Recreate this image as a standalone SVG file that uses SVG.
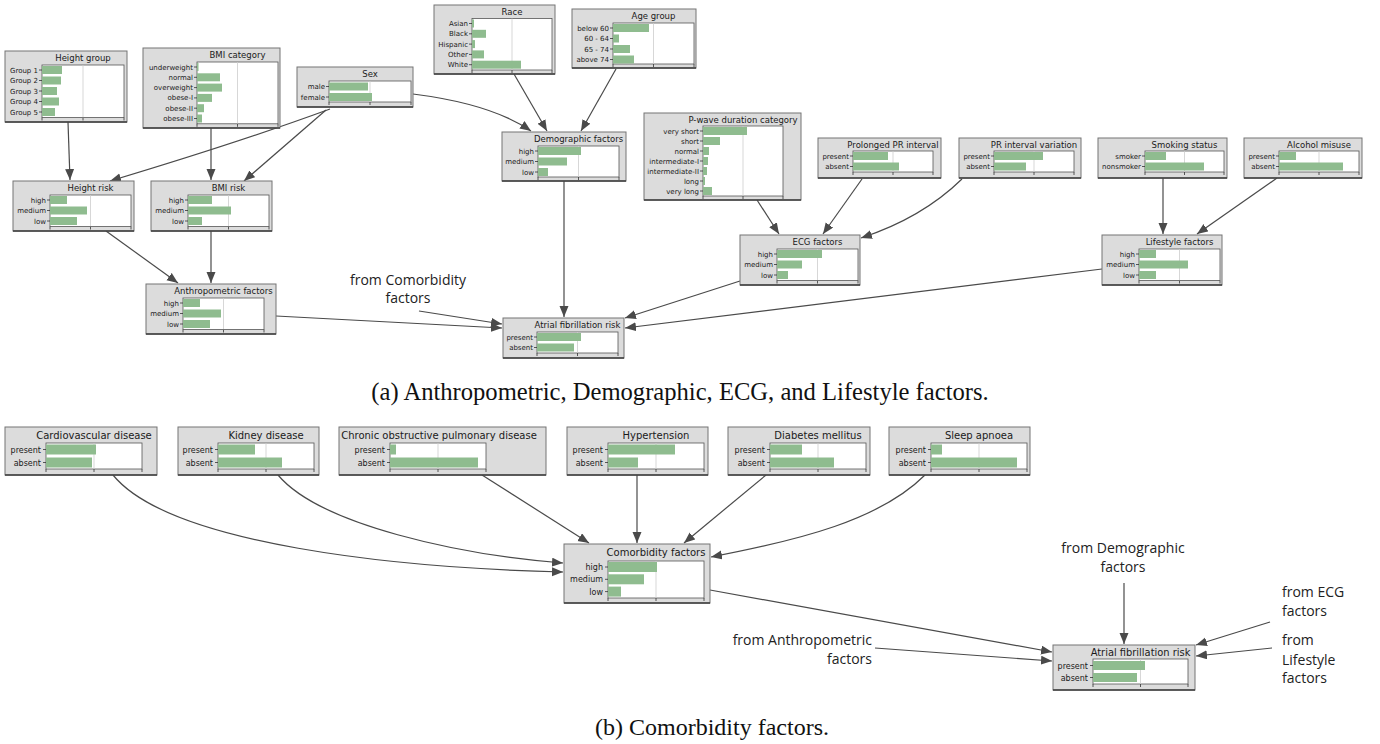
<svg xmlns="http://www.w3.org/2000/svg" width="1380" height="744" viewBox="0 0 1380 744">
<defs>
<style>
.bx{fill:#dcdcdc;stroke:#747474;stroke-width:1}
.sd{stroke:#3c3c3c;stroke-width:1.6}
.pl{fill:#fff;stroke:#555;stroke-width:0.8}
.gr{stroke:#cdcdcd;stroke-width:0.8}
.br{fill:#8fbc8f}
.tk{stroke:#333;stroke-width:0.8}
.t1{font-family:"DejaVu Sans",sans-serif;font-size:8.5px;fill:#1a1a1a;text-anchor:middle}
.l1{font-family:"DejaVu Sans",sans-serif;font-size:7px;fill:#1a1a1a;text-anchor:end}
.t2{font-family:"DejaVu Sans",sans-serif;font-size:10px;fill:#1a1a1a;text-anchor:middle}
.l2{font-family:"DejaVu Sans",sans-serif;font-size:8px;fill:#1a1a1a;text-anchor:end}
.cn{fill:none;stroke:#4a4a4a;stroke-width:1.2;marker-end:url(#ah)}
.fr{font-family:"Open Sans",sans-serif;font-size:14px;fill:#222}
.cap{font-family:"Liberation Serif",serif;font-size:24px;fill:#111;text-anchor:middle}
</style>
<marker id="ah" markerUnits="userSpaceOnUse" markerWidth="12" markerHeight="10" refX="11" refY="4.5" orient="auto">
<path d="M0,0 L11,4.5 L0,9 z" fill="#4a4a4a"/>
</marker>
</defs>
<rect width="1380" height="744" fill="#fff"/>

<g id="connectors">
<path class="cn" d="M68,122 L70,180"/>
<path class="cn" d="M330,109 Q240,142 110,181"/>
<path class="cn" d="M326,110 L244,181"/>
<path class="cn" d="M211,128 L211,180"/>
<path class="cn" d="M106,231 L178,283"/>
<path class="cn" d="M211,231 L211,283"/>
<path class="cn" d="M276,316 L502,328"/>
<path class="cn" d="M419,311 L502,324"/>
<path class="cn" d="M413,94 Q492,104 531,131"/>
<path class="cn" d="M514,74 L547,131"/>
<path class="cn" d="M616,69 L581,131"/>
<path class="cn" d="M564,181 L564,317"/>
<path class="cn" d="M757,200 L779,234"/>
<path class="cn" d="M862,179 L823,234"/>
<path class="cn" d="M962,179 Q922,218 861,238"/>
<path class="cn" d="M1163,178 L1163,234"/>
<path class="cn" d="M1277,178 L1197,234"/>
<path class="cn" d="M740,281 L625,318"/>
<path class="cn" d="M1102,269 L625,328"/>
<path class="cn" d="M113,475 C170,545 400,568 563,572"/>
<path class="cn" d="M278,475 C320,525 460,555 563,563"/>
<path class="cn" d="M482,475 L589,543"/>
<path class="cn" d="M637,475 L637,543"/>
<path class="cn" d="M766,475 L684,543"/>
<path class="cn" d="M925,475 C880,520 800,540 711,557"/>
<path class="cn" d="M710,590 L1052,652"/>
<path class="cn" d="M875,648 L1052,661"/>
<path class="cn" d="M1124,583 L1124,644"/>
<path class="cn" d="M1270,622 L1196,645"/>
<path class="cn" d="M1272,648 L1196,656"/>
</g>

<g id="height_group">
<rect class="bx" x="5" y="51" width="122" height="71"/><line class="sd" x1="5" y1="122" x2="127" y2="122"/>
<text class="t1" x="83" y="61">Height group</text>
<rect class="pl" x="42" y="65" width="82" height="52.5"/><line class="gr" x1="83" y1="65" x2="83" y2="117.5"/>
<rect class="br" x="42" y="66" width="20" height="8"/><rect class="br" x="42" y="76.5" width="19" height="8"/><rect class="br" x="42" y="87" width="15" height="8"/><rect class="br" x="42" y="97.5" width="17" height="8"/><rect class="br" x="42" y="108" width="13" height="8"/>
<path class="tk" d="M39,70H42M39,80.5H42M39,91H42M39,101.5H42M39,112H42M42,117.5V120.5M83,117.5V120.5M124,117.5V120.5"/>
<text class="l1" x="38" y="72.5">Group 1</text><text class="l1" x="38" y="83">Group 2</text><text class="l1" x="38" y="93.5">Group 3</text><text class="l1" x="38" y="104">Group 4</text><text class="l1" x="38" y="114.5">Group 5</text>
</g>

<g id="bmi_category">
<rect class="bx" x="143" y="48" width="137" height="80"/><line class="sd" x1="143" y1="128" x2="280" y2="128"/>
<text class="t1" x="237.5" y="58">BMI category</text>
<rect class="pl" x="197" y="62" width="81" height="61.8"/><line class="gr" x1="237.5" y1="62" x2="237.5" y2="123.8"/>
<rect class="br" x="197" y="63" width="1.5" height="8"/><rect class="br" x="197" y="73.3" width="23" height="8"/><rect class="br" x="197" y="83.6" width="25" height="8"/><rect class="br" x="197" y="93.9" width="15" height="8"/><rect class="br" x="197" y="104.2" width="7" height="8"/><rect class="br" x="197" y="114.5" width="5" height="8"/>
<path class="tk" d="M194,67H197M194,77.3H197M194,87.6H197M194,97.9H197M194,108.2H197M194,118.5H197M197,123.8V126.8M237.5,123.8V126.8M278,123.8V126.8"/>
<text class="l1" x="193" y="69.5">underweight</text><text class="l1" x="193" y="79.8">normal</text><text class="l1" x="193" y="90.1">overweight</text><text class="l1" x="193" y="100.4">obese-I</text><text class="l1" x="193" y="110.7">obese-II</text><text class="l1" x="193" y="121">obese-III</text>
</g>

<g id="sex">
<rect class="bx" x="297" y="67" width="116" height="40"/><line class="sd" x1="297" y1="107" x2="413" y2="107"/>
<text class="t1" x="370" y="77">Sex</text>
<rect class="pl" x="329" y="81" width="82" height="21"/><line class="gr" x1="370" y1="81" x2="370" y2="102"/>
<rect class="br" x="329" y="82.5" width="39" height="8"/><rect class="br" x="329" y="93" width="43" height="8"/>
<path class="tk" d="M326,86.5H329M326,97H329M329,102V105M370,102V105M411,102V105"/>
<text class="l1" x="325" y="89">male</text><text class="l1" x="325" y="99.5">female</text>
</g>

<g id="race">
<rect class="bx" x="434" y="5" width="121" height="69"/><line class="sd" x1="434" y1="74" x2="555" y2="74"/>
<text class="t1" x="512" y="15">Race</text>
<rect class="pl" x="472" y="18.5" width="80" height="51.5"/><line class="gr" x1="512" y1="18.5" x2="512" y2="70"/>
<rect class="br" x="472" y="19.5" width="2" height="8"/><rect class="br" x="472" y="29.8" width="14" height="8"/><rect class="br" x="472" y="40.1" width="3" height="8"/><rect class="br" x="472" y="50.4" width="12" height="8"/><rect class="br" x="472" y="60.7" width="49" height="8"/>
<path class="tk" d="M469,23.5H472M469,33.8H472M469,44.1H472M469,54.4H472M469,64.7H472M472,70V73M512,70V73M552,70V73"/>
<text class="l1" x="468" y="26">Asian</text><text class="l1" x="468" y="36.3">Black</text><text class="l1" x="468" y="46.6">Hispanic</text><text class="l1" x="468" y="56.9">Other</text><text class="l1" x="468" y="67.2">White</text>
</g>

<g id="age_group">
<rect class="bx" x="572" y="9" width="124" height="59"/><line class="sd" x1="572" y1="68" x2="696" y2="68"/>
<text class="t1" x="653.5" y="19">Age group</text>
<rect class="pl" x="613" y="23" width="81" height="41"/><line class="gr" x1="653.5" y1="23" x2="653.5" y2="64"/>
<rect class="br" x="613" y="24" width="36" height="8"/><rect class="br" x="613" y="34.5" width="6" height="8"/><rect class="br" x="613" y="45" width="17" height="8"/><rect class="br" x="613" y="55.5" width="21" height="8"/>
<path class="tk" d="M610,28H613M610,38.5H613M610,49H613M610,59.5H613M613,64V67M653.5,64V67M694,64V67"/>
<text class="l1" x="609" y="30.5">below 60</text><text class="l1" x="609" y="41">60 - 64</text><text class="l1" x="609" y="51.5">65 - 74</text><text class="l1" x="609" y="62">above 74</text>
</g>

<g id="demographic_factors">
<rect class="bx" x="502" y="132" width="124" height="49"/><line class="sd" x1="502" y1="181" x2="626" y2="181"/>
<text class="t1" x="578.5" y="142">Demographic factors</text>
<rect class="pl" x="538" y="146" width="81" height="31"/><line class="gr" x1="578.5" y1="146" x2="578.5" y2="177"/>
<rect class="br" x="538" y="147" width="43" height="8"/><rect class="br" x="538" y="157.5" width="29" height="8"/><rect class="br" x="538" y="168" width="10" height="8"/>
<path class="tk" d="M535,151H538M535,161.5H538M535,172H538M538,177V180M578.5,177V180M619,177V180"/>
<text class="l1" x="534" y="153.5">high</text><text class="l1" x="534" y="164">medium</text><text class="l1" x="534" y="174.5">low</text>
</g>

<g id="pwave_duration">
<rect class="bx" x="644" y="113" width="157" height="87"/><line class="sd" x1="644" y1="200" x2="801" y2="200"/>
<text class="t1" x="743" y="123">P-wave duration category</text>
<rect class="pl" x="703" y="126" width="80" height="70"/><line class="gr" x1="743" y1="126" x2="743" y2="196"/>
<rect class="br" x="703" y="127" width="44" height="8"/><rect class="br" x="703" y="137" width="17" height="8"/><rect class="br" x="703" y="147" width="6" height="8"/><rect class="br" x="703" y="157" width="5" height="8"/><rect class="br" x="703" y="167" width="4" height="8"/><rect class="br" x="703" y="177" width="2" height="8"/><rect class="br" x="703" y="187" width="9" height="8"/>
<path class="tk" d="M700,131H703M700,141H703M700,151H703M700,161H703M700,171H703M700,181H703M700,191H703M703,196V199M743,196V199M783,196V199"/>
<text class="l1" x="699" y="133.5">very short</text><text class="l1" x="699" y="143.5">short</text><text class="l1" x="699" y="153.5">normal</text><text class="l1" x="699" y="163.5">intermediate-I</text><text class="l1" x="699" y="173.5">intermediate-II</text><text class="l1" x="699" y="183.5">long</text><text class="l1" x="699" y="193.5">very long</text>
</g>

<g id="prolonged_pr">
<rect class="bx" x="818" y="138" width="123" height="40"/><line class="sd" x1="818" y1="178" x2="941" y2="178"/>
<text class="t1" x="893" y="148">Prolonged PR interval</text>
<rect class="pl" x="853" y="151" width="80" height="21"/><line class="gr" x1="893" y1="151" x2="893" y2="172"/>
<rect class="br" x="853" y="152" width="35" height="8"/><rect class="br" x="853" y="162.5" width="46" height="8"/>
<path class="tk" d="M850,156H853M850,166.5H853M853,172V175M893,172V175M933,172V175"/>
<text class="l1" x="849" y="158.5">present</text><text class="l1" x="849" y="169">absent</text>
</g>

<g id="pr_variation">
<rect class="bx" x="959" y="138" width="122" height="40"/><line class="sd" x1="959" y1="178" x2="1081" y2="178"/>
<text class="t1" x="1034" y="148">PR interval variation</text>
<rect class="pl" x="994" y="151" width="80" height="21"/><line class="gr" x1="1034" y1="151" x2="1034" y2="172"/>
<rect class="br" x="994" y="152" width="49" height="8"/><rect class="br" x="994" y="162.5" width="32" height="8"/>
<path class="tk" d="M991,156H994M991,166.5H994M994,172V175M1034,172V175M1074,172V175"/>
<text class="l1" x="990" y="158.5">present</text><text class="l1" x="990" y="169">absent</text>
</g>

<g id="smoking_status">
<rect class="bx" x="1098" y="138" width="129" height="40"/><line class="sd" x1="1098" y1="178" x2="1227" y2="178"/>
<text class="t1" x="1184.5" y="148">Smoking status</text>
<rect class="pl" x="1145" y="151" width="79" height="21"/><line class="gr" x1="1184.5" y1="151" x2="1184.5" y2="172"/>
<rect class="br" x="1145" y="152" width="21" height="8"/><rect class="br" x="1145" y="162.5" width="59" height="8"/>
<path class="tk" d="M1142,156H1145M1142,166.5H1145M1145,172V175M1184.5,172V175M1224,172V175"/>
<text class="l1" x="1141" y="158.5">smoker</text><text class="l1" x="1141" y="169">nonsmoker</text>
</g>

<g id="alcohol_misuse">
<rect class="bx" x="1244" y="138" width="118" height="40"/><line class="sd" x1="1244" y1="178" x2="1362" y2="178"/>
<text class="t1" x="1319" y="148">Alcohol misuse</text>
<rect class="pl" x="1279" y="151" width="80" height="21"/><line class="gr" x1="1319" y1="151" x2="1319" y2="172"/>
<rect class="br" x="1279" y="152" width="17" height="8"/><rect class="br" x="1279" y="162.5" width="64" height="8"/>
<path class="tk" d="M1276,156H1279M1276,166.5H1279M1279,172V175M1319,172V175M1359,172V175"/>
<text class="l1" x="1275" y="158.5">present</text><text class="l1" x="1275" y="169">absent</text>
</g>

<g id="height_risk">
<rect class="bx" x="13" y="181" width="121" height="50"/><line class="sd" x1="13" y1="231" x2="134" y2="231"/>
<text class="t1" x="90.5" y="191">Height risk</text>
<rect class="pl" x="50" y="195" width="81" height="31.5"/><line class="gr" x1="90.5" y1="195" x2="90.5" y2="226.5"/>
<rect class="br" x="50" y="196" width="17" height="8"/><rect class="br" x="50" y="206.5" width="37" height="8"/><rect class="br" x="50" y="217" width="27" height="8"/>
<path class="tk" d="M47,200H50M47,210.5H50M47,221H50M50,226.5V229.5M90.5,226.5V229.5M131,226.5V229.5"/>
<text class="l1" x="46" y="202.5">high</text><text class="l1" x="46" y="213">medium</text><text class="l1" x="46" y="223.5">low</text>
</g>

<g id="bmi_risk">
<rect class="bx" x="151" y="181" width="121" height="50"/><line class="sd" x1="151" y1="231" x2="272" y2="231"/>
<text class="t1" x="228.5" y="191">BMI risk</text>
<rect class="pl" x="188" y="195" width="81" height="31.5"/><line class="gr" x1="228.5" y1="195" x2="228.5" y2="226.5"/>
<rect class="br" x="188" y="196" width="24" height="8"/><rect class="br" x="188" y="206.5" width="43" height="8"/><rect class="br" x="188" y="217" width="14" height="8"/>
<path class="tk" d="M185,200H188M185,210.5H188M185,221H188M188,226.5V229.5M228.5,226.5V229.5M269,226.5V229.5"/>
<text class="l1" x="184" y="202.5">high</text><text class="l1" x="184" y="213">medium</text><text class="l1" x="184" y="223.5">low</text>
</g>

<g id="anthropometric_factors">
<rect class="bx" x="146" y="284" width="130" height="50"/><line class="sd" x1="146" y1="334" x2="276" y2="334"/>
<text class="t1" x="223.5" y="294">Anthropometric factors</text>
<rect class="pl" x="183" y="298" width="81" height="31.5"/><line class="gr" x1="223.5" y1="298" x2="223.5" y2="329.5"/>
<rect class="br" x="183" y="299" width="17" height="8"/><rect class="br" x="183" y="309.5" width="38" height="8"/><rect class="br" x="183" y="320" width="27" height="8"/>
<path class="tk" d="M180,303H183M180,313.5H183M180,324H183M183,329.5V332.5M223.5,329.5V332.5M264,329.5V332.5"/>
<text class="l1" x="179" y="305.5">high</text><text class="l1" x="179" y="316">medium</text><text class="l1" x="179" y="326.5">low</text>
</g>

<g id="ecg_factors">
<rect class="bx" x="740" y="235" width="120" height="50"/><line class="sd" x1="740" y1="285" x2="860" y2="285"/>
<text class="t1" x="817.5" y="245">ECG factors</text>
<rect class="pl" x="777" y="249" width="81" height="31.5"/><line class="gr" x1="817.5" y1="249" x2="817.5" y2="280.5"/>
<rect class="br" x="777" y="250" width="45" height="8"/><rect class="br" x="777" y="260.5" width="25" height="8"/><rect class="br" x="777" y="271" width="11" height="8"/>
<path class="tk" d="M774,254H777M774,264.5H777M774,275H777M777,280.5V283.5M817.5,280.5V283.5M858,280.5V283.5"/>
<text class="l1" x="773" y="256.5">high</text><text class="l1" x="773" y="267">medium</text><text class="l1" x="773" y="277.5">low</text>
</g>

<g id="lifestyle_factors">
<rect class="bx" x="1102" y="235" width="120" height="50"/><line class="sd" x1="1102" y1="285" x2="1222" y2="285"/>
<text class="t1" x="1179.5" y="245">Lifestyle factors</text>
<rect class="pl" x="1139" y="249" width="81" height="31.5"/><line class="gr" x1="1179.5" y1="249" x2="1179.5" y2="280.5"/>
<rect class="br" x="1139" y="250" width="17" height="8"/><rect class="br" x="1139" y="260.5" width="49" height="8"/><rect class="br" x="1139" y="271" width="17" height="8"/>
<path class="tk" d="M1136,254H1139M1136,264.5H1139M1136,275H1139M1139,280.5V283.5M1179.5,280.5V283.5M1220,280.5V283.5"/>
<text class="l1" x="1135" y="256.5">high</text><text class="l1" x="1135" y="267">medium</text><text class="l1" x="1135" y="277.5">low</text>
</g>

<g id="atrial_fibrillation_a">
<rect class="bx" x="503" y="318" width="121" height="40"/><line class="sd" x1="503" y1="358" x2="624" y2="358"/>
<text class="t1" x="577.5" y="328">Atrial fibrillation risk</text>
<rect class="pl" x="537" y="332" width="81" height="21"/><line class="gr" x1="577.5" y1="332" x2="577.5" y2="353"/>
<rect class="br" x="537" y="333" width="44" height="8"/><rect class="br" x="537" y="343.5" width="37" height="8"/>
<path class="tk" d="M534,337H537M534,347.5H537M537,353V356M577.5,353V356M618,353V356"/>
<text class="l1" x="533" y="339.5">present</text><text class="l1" x="533" y="350">absent</text>
</g>

<g id="label_from_comorbidity">
<text class="fr" x="408" y="285" text-anchor="middle">from Comorbidity</text>
<text class="fr" x="408" y="303" text-anchor="middle">factors</text>
</g>

<text class="cap" x="680" y="400" style="font-size:24.6px">(a) Anthropometric, Demographic, ECG, and Lifestyle factors.</text>

<g id="cardiovascular_disease">
<rect class="bx" x="5" y="427" width="152" height="48"/><line class="sd" x1="5" y1="475" x2="157" y2="475"/>
<text class="t2" x="94" y="438.5">Cardiovascular disease</text>
<rect class="pl" x="46" y="443" width="96" height="26"/><line class="gr" x1="94" y1="443" x2="94" y2="469"/>
<rect class="br" x="46" y="444.5" width="50" height="10"/><rect class="br" x="46" y="457.5" width="46" height="10"/>
<path class="tk" d="M43,449.5H46M43,462.5H46M46,469V472M94,469V472M142,469V472"/>
<text class="l2" x="41" y="452.5">present</text><text class="l2" x="41" y="465.5">absent</text>
</g>

<g id="kidney_disease">
<rect class="bx" x="178" y="427" width="141" height="48"/><line class="sd" x1="178" y1="475" x2="319" y2="475"/>
<text class="t2" x="266" y="438.5">Kidney disease</text>
<rect class="pl" x="218" y="443" width="96" height="26"/><line class="gr" x1="266" y1="443" x2="266" y2="469"/>
<rect class="br" x="218" y="444.5" width="37" height="10"/><rect class="br" x="218" y="457.5" width="64" height="10"/>
<path class="tk" d="M215,449.5H218M215,462.5H218M218,469V472M266,469V472M314,469V472"/>
<text class="l2" x="213" y="452.5">present</text><text class="l2" x="213" y="465.5">absent</text>
</g>

<g id="copd">
<rect class="bx" x="339" y="427" width="207" height="48"/><line class="sd" x1="339" y1="475" x2="546" y2="475"/>
<text class="t2" x="439" y="438.5">Chronic obstructive pulmonary disease</text>
<rect class="pl" x="390" y="443" width="96" height="26"/><line class="gr" x1="438" y1="443" x2="438" y2="469"/>
<rect class="br" x="390" y="444.5" width="6" height="10"/><rect class="br" x="390" y="457.5" width="88" height="10"/>
<path class="tk" d="M387,449.5H390M387,462.5H390M390,469V472M438,469V472M486,469V472"/>
<text class="l2" x="385" y="452.5">present</text><text class="l2" x="385" y="465.5">absent</text>
</g>

<g id="hypertension">
<rect class="bx" x="567" y="427" width="141" height="48"/><line class="sd" x1="567" y1="475" x2="708" y2="475"/>
<text class="t2" x="656" y="438.5">Hypertension</text>
<rect class="pl" x="608" y="443" width="96" height="26"/><line class="gr" x1="656" y1="443" x2="656" y2="469"/>
<rect class="br" x="608" y="444.5" width="67" height="10"/><rect class="br" x="608" y="457.5" width="30" height="10"/>
<path class="tk" d="M605,449.5H608M605,462.5H608M608,469V472M656,469V472M704,469V472"/>
<text class="l2" x="603" y="452.5">present</text><text class="l2" x="603" y="465.5">absent</text>
</g>

<g id="diabetes_mellitus">
<rect class="bx" x="728" y="427" width="142" height="48"/><line class="sd" x1="728" y1="475" x2="870" y2="475"/>
<text class="t2" x="818" y="438.5">Diabetes mellitus</text>
<rect class="pl" x="770" y="443" width="96" height="26"/><line class="gr" x1="818" y1="443" x2="818" y2="469"/>
<rect class="br" x="770" y="444.5" width="32" height="10"/><rect class="br" x="770" y="457.5" width="64" height="10"/>
<path class="tk" d="M767,449.5H770M767,462.5H770M770,469V472M818,469V472M866,469V472"/>
<text class="l2" x="765" y="452.5">present</text><text class="l2" x="765" y="465.5">absent</text>
</g>

<g id="sleep_apnoea">
<rect class="bx" x="889" y="427" width="141" height="48"/><line class="sd" x1="889" y1="475" x2="1030" y2="475"/>
<text class="t2" x="979" y="438.5">Sleep apnoea</text>
<rect class="pl" x="931" y="443" width="96" height="26"/><line class="gr" x1="979" y1="443" x2="979" y2="469"/>
<rect class="br" x="931" y="444.5" width="11" height="10"/><rect class="br" x="931" y="457.5" width="86" height="10"/>
<path class="tk" d="M928,449.5H931M928,462.5H931M931,469V472M979,469V472M1027,469V472"/>
<text class="l2" x="926" y="452.5">present</text><text class="l2" x="926" y="465.5">absent</text>
</g>

<g id="comorbidity_factors">
<rect class="bx" x="564" y="544" width="146" height="59"/><line class="sd" x1="564" y1="603" x2="710" y2="603"/>
<text class="t2" x="656" y="555.5">Comorbidity factors</text>
<rect class="pl" x="608" y="561" width="96" height="37"/><line class="gr" x1="656" y1="561" x2="656" y2="598"/>
<rect class="br" x="608" y="562" width="49" height="10"/><rect class="br" x="608" y="574.3" width="36" height="10"/><rect class="br" x="608" y="586.6" width="13" height="10"/>
<path class="tk" d="M605,567H608M605,579.3H608M605,591.6H608M608,598V601M656,598V601M704,598V601"/>
<text class="l2" x="603" y="570">high</text><text class="l2" x="603" y="582.3">medium</text><text class="l2" x="603" y="594.6">low</text>
</g>

<g id="atrial_fibrillation_b">
<rect class="bx" x="1053" y="645" width="142" height="45"/><line class="sd" x1="1053" y1="690" x2="1195" y2="690"/>
<text class="t2" x="1140.5" y="655.5" style="font-size:9.9px">Atrial fibrillation risk</text>
<rect class="pl" x="1093" y="659" width="95" height="25"/><line class="gr" x1="1140.5" y1="659" x2="1140.5" y2="684"/>
<rect class="br" x="1093" y="661" width="52" height="9"/><rect class="br" x="1093" y="673" width="44" height="9"/>
<path class="tk" d="M1090,665.5H1093M1090,677.5H1093M1093,684V687M1140.5,684V687M1188,684V687"/>
<text class="l2" x="1088" y="668.5">present</text><text class="l2" x="1088" y="680.5">absent</text>
</g>

<g id="labels_b">
<text class="fr" x="872" y="645" text-anchor="end">from Anthropometric</text>
<text class="fr" x="872" y="664" text-anchor="end">factors</text>
<text class="fr" x="1123" y="553" text-anchor="middle">from Demographic</text>
<text class="fr" x="1123" y="572" text-anchor="middle">factors</text>
<text class="fr" x="1282" y="597">from ECG</text>
<text class="fr" x="1282" y="616">factors</text>
<text class="fr" x="1282" y="645">from</text>
<text class="fr" x="1282" y="665">Lifestyle</text>
<text class="fr" x="1282" y="683">factors</text>
</g>

<text class="cap" x="712" y="735">(b) Comorbidity factors.</text>
</svg>
